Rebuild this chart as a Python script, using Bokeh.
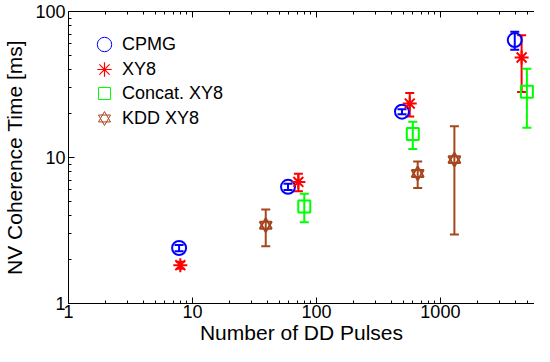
from bokeh.plotting import figure
from bokeh.models import (ColumnDataSource, Whisker, TeeHead, LogAxis, FixedTicker,
                          PrintfTickFormatter, CustomJSTickFormatter, Legend,
                          LegendItem, Range1d)
from bokeh.embed import file_html
from bokeh.resources import INLINE

# ---- data ----
cpmg_x = [7.8, 59, 490, 3980]
cpmg_y = [2.4, 6.3, 20.6, 63.7]
cpmg_err = [0.12, 0.3, 0.8, 9.0]

xy8_x = [7.98, 71.5, 566, 4520]
xy8_y = [1.83, 6.8, 23.4, 48.4]
xy8_err = [0.1, 0.93, 4.3, 20.3]

concat_x = [79.8, 599, 4986]
concat_y = [4.62, 14.5, 28.25]
concat_err = [1.02, 3.05, 12.25]

kdd_x = [39, 656, 1297]
kdd_y = [3.44, 7.78, 9.67]
kdd_err = [0.97, 1.6, 6.7]

x_major = [1, 10, 100, 1000]
x_minor = [2, 3, 4, 5, 6, 7, 8, 9, 20, 30, 40, 50, 60, 70, 80, 90,
           200, 300, 400, 500, 600, 700, 800, 900, 2000, 3000, 4000, 5000]
y_major = [1, 10, 100]
y_minor = [2, 3, 4, 5, 6, 7, 8, 9, 20, 30, 40, 50, 60, 70, 80, 90]

x_title = "Number of DD Pulses"
y_title = "NV Coherence Time [ms]"
series_names = ["CPMG", "XY8", "Concat. XY8", "KDD XY8"]

FONT = "Liberation Sans"
BROWN = "#A5461E"
GREEN = "#00FF00"

BORDER_BOTTOM = 43
PLOT_H = 346

p = figure(width=534, height=PLOT_H, x_axis_type="log", y_axis_type="log",
           x_range=Range1d(1, 5743), y_range=Range1d(1, 100),
           output_backend="svg", toolbar_location=None,
           min_border_left=63, min_border_right=0, min_border_top=11,
           min_border_bottom=BORDER_BOTTOM)
p.outline_line_color = None
p.xgrid.visible = False
p.ygrid.visible = False
p.background_fill_color = "white"
p.border_fill_color = "white"


def style_axis(ax):
    ax.major_tick_in = 6
    ax.major_tick_out = 0
    ax.minor_tick_in = 3
    ax.minor_tick_out = 0
    ax.axis_line_color = "black"
    ax.axis_line_width = 1
    ax.major_tick_line_color = "black"
    ax.minor_tick_line_color = "black"
    ax.major_label_text_font = FONT
    ax.major_label_text_font_size = "18px"
    ax.major_label_text_color = "black"
    ax.axis_label_text_font = FONT
    ax.axis_label_text_font_size = "21px"
    ax.axis_label_text_font_style = "normal"
    ax.axis_label_text_color = "black"


xa = p.xaxis[0]
xa.ticker = FixedTicker(ticks=x_major, minor_ticks=x_minor)
xa.formatter = PrintfTickFormatter(format="%d")
xa.axis_label = x_title
style_axis(xa)
xa.major_label_standoff = 1
xa.axis_label_standoff = 0

ya = p.yaxis[0]
ya.ticker = FixedTicker(ticks=y_major, minor_ticks=y_minor)
ya.formatter = PrintfTickFormatter(format="%d")
ya.axis_label = y_title
style_axis(ya)
ya.major_label_standoff = 3
ya.axis_label_standoff = 6

top = LogAxis(ticker=FixedTicker(ticks=x_major, minor_ticks=x_minor),
              formatter=CustomJSTickFormatter(code="return ''"))
style_axis(top)
top.major_label_standoff = 0
top.major_label_text_font_size = "1px"
p.add_layout(top, "above")


def errbars(xs, ys, errs, color):
    src = ColumnDataSource(dict(x=xs, lo=[y - e for y, e in zip(ys, errs)],
                                hi=[y + e for y, e in zip(ys, errs)]))
    w = Whisker(source=src, base="x", lower="lo", upper="hi", dimension="height",
                line_color=color, line_width=2,
                upper_head=TeeHead(size=9, line_color=color, line_width=2),
                lower_head=TeeHead(size=9, line_color=color, line_width=2))
    p.add_layout(w)


errbars(cpmg_x, cpmg_y, cpmg_err, "blue")
errbars(xy8_x, xy8_y, xy8_err, "red")
errbars(concat_x, concat_y, concat_err, GREEN)
errbars(kdd_x, kdd_y, kdd_err, BROWN)

p.scatter(cpmg_x, cpmg_y, marker="circle", size=14, fill_color=None,
          line_color="blue", line_width=2)
p.scatter(xy8_x, xy8_y, marker="asterisk", size=14, line_color="red", line_width=2)
p.scatter(concat_x, concat_y, marker="square", size=12, fill_color=None,
          line_color=GREEN, line_width=2)
p.scatter(kdd_x, kdd_y, marker="triangle", size=12, fill_color=None,
          line_color=BROWN, line_width=2)
p.scatter(kdd_x, kdd_y, marker="inverted_triangle", size=12, fill_color=None,
          line_color=BROWN, line_width=2)

# legend-only glyphs (thinner outlines); their single point lies outside the axes range
off = dict(x=[0.1], y=[0.1])
l1 = p.scatter("x", "y", source=ColumnDataSource(off), marker="circle",
               fill_color=None, line_color="blue", line_width=1)
l2 = p.scatter("x", "y", source=ColumnDataSource(off), marker="asterisk",
               line_color="red", line_width=1.2)
l3 = p.scatter("x", "y", source=ColumnDataSource(off), marker="square",
               fill_color=None, line_color=GREEN, line_width=1)
l4a = p.scatter("x", "y", source=ColumnDataSource(off), marker="triangle",
                fill_color=None, line_color=BROWN, line_width=1)
l4b = p.scatter("x", "y", source=ColumnDataSource(off), marker="inverted_triangle",
                fill_color=None, line_color=BROWN, line_width=1)

# one small legend per entry so that row pitch and glyph size can both match
frame_bottom = PLOT_H - BORDER_BOTTOM          # canvas px
row_centers = [44, 69, 93, 118]                # canvas px (page px - 8)
glyph_boxes = [36, 36, 30, 30]                 # legend glyph size = 0.4 * box
renderer_sets = [[l1], [l2], [l3], [l4a, l4b]]
for name, rs, cy, box in zip(series_names, renderer_sets, row_centers, glyph_boxes):
    half = box // 2
    lg = Legend(items=[LegendItem(label=name, renderers=rs)],
                location=(36 - half, frame_bottom - cy - half))
    lg.border_line_color = None
    lg.background_fill_alpha = 0
    lg.label_text_font = FONT
    lg.label_text_font_size = "18px"
    lg.label_text_color = "black"
    lg.glyph_width = box
    lg.glyph_height = box
    lg.label_height = 20
    lg.padding = 0
    lg.margin = 0
    lg.label_standoff = 18 - half
    p.add_layout(lg)

open("out.html", "w").write(file_html(p, INLINE))
